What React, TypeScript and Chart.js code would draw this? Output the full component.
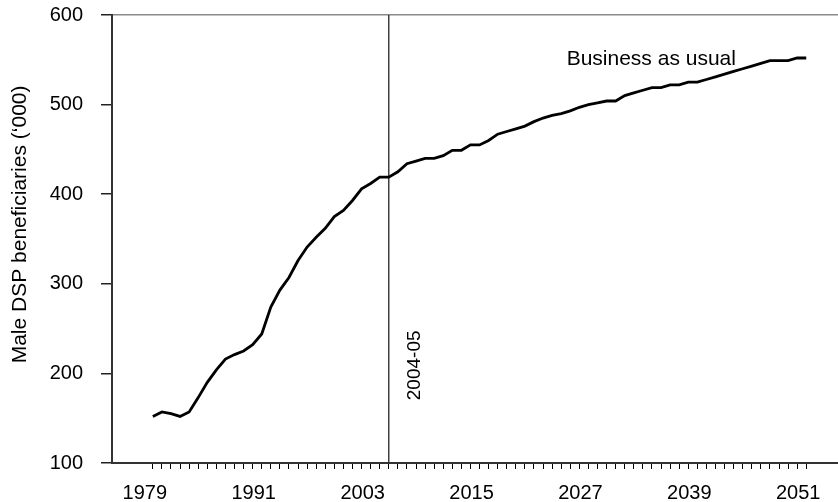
import React, { useEffect, useRef } from "react";
import { Chart, registerables } from "chart.js";

Chart.register(...registerables);

const years = [
  1979, 1980, 1981, 1982, 1983, 1984, 1985, 1986, 1987, 1988,
  1989, 1990, 1991, 1992, 1993, 1994, 1995, 1996, 1997, 1998,
  1999, 2000, 2001, 2002, 2003, 2004, 2005, 2006, 2007, 2008,
  2009, 2010, 2011, 2012, 2013, 2014, 2015, 2016, 2017, 2018,
  2019, 2020, 2021, 2022, 2023, 2024, 2025, 2026, 2027, 2028,
  2029, 2030, 2031, 2032, 2033, 2034, 2035, 2036, 2037, 2038,
  2039, 2040, 2041, 2042, 2043, 2044, 2045, 2046, 2047, 2048,
  2049, 2050, 2051,
];

const beneficiaries = [
  152, 157, 155, 152, 157, 173, 190, 204, 216, 221,
  225, 232, 244, 274, 293, 307, 326, 341, 352, 362,
  375, 382, 393, 406, 412, 419, 419, 425, 434, 437,
  440, 440, 443, 449, 449, 455, 455, 460, 467, 470,
  473, 476, 481, 485, 488, 490, 493, 497, 500, 502,
  504, 504, 510, 513, 516, 519, 519, 522, 522, 525,
  525, 528, 531, 534, 537, 540, 543, 546, 549, 549,
  549, 552, 552,
];

const xLabelYears = [1979, 1991, 2003, 2015, 2027, 2039, 2051];
const yTickValues = [100, 200, 300, 400, 500, 600];
const markerYear = 2005;
const markerLabel = "2004-05";
const seriesLabel = "Business as usual";
const yTitle = "Male DSP beneficiaries (\u2018000)";

const FONT = '"Liberation Sans", Arial, sans-serif';

const annotationPlugin = {
  id: "annotations",
  afterDatasetsDraw(chart: any) {
    const { ctx, scales } = chart;
    const x = scales.x;
    const y = scales.y;
    ctx.save();
    ctx.fillStyle = "#000";
    ctx.font = `21px ${FONT}`;
    ctx.textAlign = "left";
    ctx.textBaseline = "alphabetic";
    ctx.fillText(seriesLabel, x.getPixelForValue(2024.6), y.getPixelForValue(544));
    ctx.font = `19px ${FONT}`;
    ctx.translate(x.getPixelForValue(2008.4), y.getPixelForValue(209));
    ctx.rotate(-Math.PI / 2);
    ctx.textAlign = "center";
    ctx.fillText(markerLabel, 0, 0);
    ctx.restore();
  },
};

export default function App() {
  const ref = useRef<HTMLCanvasElement>(null);

  useEffect(() => {
    if (!ref.current) return;
    const chart = new Chart(ref.current, {
      type: "line",
      data: {
        datasets: [
          {
            label: seriesLabel,
            data: years.map((yr, i) => ({ x: yr, y: beneficiaries[i] })),
            borderColor: "#000",
            borderWidth: 2.8,
            pointRadius: 0,
            tension: 0,
            fill: false,
          },
          {
            label: markerLabel,
            data: [
              { x: markerYear, y: yTickValues[0] },
              { x: markerYear, y: yTickValues[yTickValues.length - 1] },
            ],
            borderColor: "#222",
            borderWidth: 1.3,
            pointRadius: 0,
            fill: false,
          },
        ],
      },
      options: {
        animation: false,
        responsive: false,
        layout: { padding: { top: 15, left: 0, right: 0, bottom: 0 } },
        plugins: {
          legend: { display: false },
          tooltip: { enabled: false },
        },
        scales: {
          x: {
            type: "linear",
            min: 1974.5,
            max: 2054.5,
            afterBuildTicks: (scale: any) => {
              scale.ticks = years.map((v) => ({ value: v }));
            },
            afterFit: (scale: any) => {
              scale.height = 39;
              scale.paddingLeft = 0;
              scale.paddingRight = 0;
            },
            ticks: {
              autoSkip: false,
              maxRotation: 0,
              minRotation: 0,
              labelOffset: -8,
              padding: 12,
              color: "#000",
              font: { family: FONT, size: 20 },
              callback: (v: any) => (xLabelYears.includes(Number(v)) ? String(v) : ""),
            },
            grid: {
              drawOnChartArea: false,
              drawTicks: true,
              tickLength: 6,
              color: "#000",
              lineWidth: 1,
            },
            border: { color: "#333", width: 2 },
          },
          y: {
            type: "linear",
            min: 100,
            max: 600,
            afterBuildTicks: (scale: any) => {
              scale.ticks = yTickValues.map((v) => ({ value: v }));
            },
            afterFit: (scale: any) => {
              scale.width = 112;
              scale.paddingTop = 0;
              scale.paddingBottom = 0;
            },
            ticks: {
              padding: 18,
              color: "#000",
              font: { family: FONT, size: 20 },
            },
            grid: {
              drawOnChartArea: true,
              drawTicks: true,
              tickLength: 11,
              color: (c: any) => (c.tick && c.tick.value === 600 ? "#8a8a8a" : "rgba(0,0,0,0)"),
              tickColor: "#222",
              lineWidth: 1.5,
            },
            border: { color: "#333", width: 2 },
            title: {
              display: true,
              text: "     " + yTitle,
              color: "#000",
              font: { family: FONT, size: 21 },
              padding: { top: 8, bottom: 0 },
            },
          },
        },
      },
      plugins: [annotationPlugin],
    });
    return () => chart.destroy();
  }, []);

  return (
    <div style={{ position: "absolute", left: 0, top: 0, width: 838, height: 502 }}>
      <canvas ref={ref} width={838} height={502} style={{ display: "block" }} />
    </div>
  );
}
